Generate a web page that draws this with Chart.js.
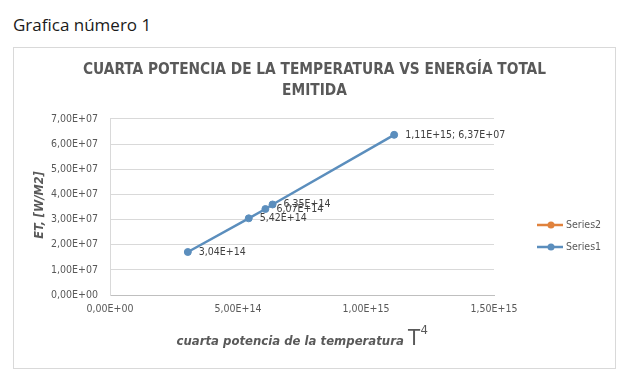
<!DOCTYPE html>
<html>
<head>
<meta charset="utf-8">
<script src="https://cdn.jsdelivr.net/npm/chart.js@4.4.1/dist/chart.umd.min.js"></script>
<style>
  html, body { margin: 0; padding: 0; background: #ffffff; }
  body { width: 637px; height: 383px; position: relative; overflow: hidden; }
  #heading { position: absolute; left: 13px; top: 13px; font-family: 'Open Sans', sans-serif; font-size: 17px; color: #1a1a1a; line-height: 24px; white-space: nowrap; }
  #frame { position: absolute; left: 13px; top: 47px; width: 603px; height: 322px; box-sizing: border-box; border: 1px solid #d9d9d9; background: #fff; }
  #chart { display: block; }
</style>
</head>
<body>
<div id="heading">Grafica número 1</div>
<div id="frame"><canvas id="chart" width="601" height="320"></canvas></div>
<script>
// ---- data ----
const seriesNames = ['Series1', 'Series2'];
const xValues = [3.04e14, 5.42e14, 6.07e14, 6.35e14, 1.11e15];   // cuarta potencia de la temperatura
const yValues = [1.71e7, 3.05e7, 3.42e7, 3.60e7, 6.37e7];        // ET [W/M2]
const labelShowsY = [false, false, false, false, true];
const series2X = [];
const series2Y = [];
const titleLines = ['CUARTA POTENCIA DE LA TEMPERATURA VS ENERGÍA TOTAL', 'EMITIDA'];
const yAxisTitle = 'ET, [W/M2]';
const xAxisTitle = 'cuarta potencia de la temperatura';
const xAxisTitleSymbol = 'T';
const xAxisTitleSup = '4';
const xMin = 0, xMax = 1.5e15, xStep = 5e14;
const yMin = 0, yMax = 7e7, yStep = 1e7;

// ---- styling ----
const NARROW = "'DejaVu Sans Condensed', 'Liberation Sans', sans-serif";
const BLUE = '#5b8ebd';
const ORANGE = '#e0823d';
const TEXT = '#595959';

function fmtE(v) {
  const parts = Number(v).toExponential(2).split('e');
  const sign = parts[1][0] === '-' ? '-' : '+';
  let d = parts[1].replace(/[+-]/, '');
  if (d.length < 2) d = '0' + d;
  return parts[0].replace('.', ',') + 'E' + sign + d;
}

const points1 = xValues.map((x, i) => ({ x: x, y: yValues[i] }));
const points2 = series2X.map((x, i) => ({ x: x, y: series2Y[i] }));

const overlay = {
  id: 'overlay',
  afterDraw(chart) {
    const ctx = chart.ctx;
    const area = chart.chartArea;
    ctx.save();
    // data labels
    const meta = chart.getDatasetMeta(0);
    ctx.font = '10.5px ' + NARROW;
    ctx.fillStyle = '#404040';
    ctx.textBaseline = 'middle';
    ctx.textAlign = 'left';
    meta.data.forEach((pt, i) => {
      let txt = fmtE(xValues[i]);
      if (labelShowsY[i]) txt += '; ' + fmtE(yValues[i]);
      ctx.fillText(txt, pt.x + 11, pt.y);
    });
    // y axis title
    ctx.save();
    ctx.translate(26, (area.top + area.bottom) / 2 - 2);
    ctx.rotate(-Math.PI / 2);
    ctx.font = 'italic bold 12.5px ' + NARROW;
    ctx.fillStyle = TEXT;
    ctx.textAlign = 'center';
    ctx.textBaseline = 'middle';
    ctx.fillText(yAxisTitle, 0, 0);
    ctx.restore();
    // x axis title (mixed fonts)
    const f1 = 'italic bold 13px ' + NARROW;
    const f2 = '22px ' + NARROW;
    const f3 = '13px ' + NARROW;
    ctx.textBaseline = 'alphabetic';
    ctx.font = f1; const w1 = ctx.measureText(xAxisTitle + ' ').width;
    ctx.font = f2; const w2 = ctx.measureText(xAxisTitleSymbol).width;
    ctx.font = f3; const w3 = ctx.measureText(xAxisTitleSup).width;
    let sx = (area.left + area.right) / 2 - (w1 + w2 + w3) / 2;
    const base = 296.5;
    ctx.fillStyle = TEXT;
    ctx.font = f1; ctx.fillText(xAxisTitle + ' ', sx, base); sx += w1;
    ctx.font = f2; ctx.fillText(xAxisTitleSymbol, sx, base); sx += w2 + 0.5;
    ctx.font = f3; ctx.fillText(xAxisTitleSup, sx, base - 11);
    // legend (Series2 above Series1)
    const legendOrder = [1, 0];
    const colors = [BLUE, ORANGE];
    ctx.font = '10.5px ' + NARROW;
    ctx.textBaseline = 'middle';
    legendOrder.forEach((di, k) => {
      const y = 177 + k * 22;
      ctx.strokeStyle = colors[di];
      ctx.lineWidth = 2.5;
      ctx.beginPath(); ctx.moveTo(523, y); ctx.lineTo(549, y); ctx.stroke();
      ctx.fillStyle = colors[di];
      ctx.beginPath(); ctx.arc(537, y, 3.5, 0, Math.PI * 2); ctx.fill();
      ctx.fillStyle = TEXT;
      ctx.fillText(seriesNames[di], 552, y);
    });
    ctx.restore();
  }
};

new Chart(document.getElementById('chart'), {
  type: 'scatter',
  data: {
    datasets: [
      { label: seriesNames[0], data: points1, showLine: true, borderColor: BLUE, backgroundColor: BLUE,
        borderWidth: 2.5, pointRadius: 3.5, pointBackgroundColor: BLUE, pointBorderColor: BLUE, pointBorderWidth: 1 },
      { label: seriesNames[1], data: points2, showLine: true, borderColor: ORANGE, backgroundColor: ORANGE,
        borderWidth: 2.5, pointRadius: 3.5 }
    ]
  },
  options: {
    responsive: false,
    animation: false,
    devicePixelRatio: 1,
    layout: { padding: { left: 0, right: 0, top: 0, bottom: 0 } },
    plugins: {
      legend: { display: false },
      tooltip: { enabled: false },
      title: {
        display: true,
        text: titleLines,
        color: TEXT,
        font: { family: NARROW, size: 15.3, weight: 'bold', lineHeight: 1.372 },
        padding: { top: 12, bottom: 17 }
      }
    },
    scales: {
      x: {
        type: 'linear', position: 'bottom',
        min: xMin, max: xMax,
        afterFit(s) { s.height = 73; },
        grid: { display: false, drawTicks: false },
        border: { display: true, color: '#bfbfbf', width: 1 },
        ticks: { stepSize: xStep, padding: 8, color: TEXT, font: { family: NARROW, size: 10.5 },
                 maxRotation: 0, autoSkip: false, callback: v => fmtE(v) }
      },
      y: {
        type: 'linear', position: 'left',
        min: yMin, max: yMax,
        afterFit(s) { s.width = 96; },
        grid: { display: true, color: '#d9d9d9', lineWidth: 1, drawTicks: false },
        border: { display: true, color: '#d9d9d9', width: 1 },
        ticks: { stepSize: yStep, padding: 12, color: TEXT, font: { family: NARROW, size: 10.5 },
                 callback: v => fmtE(v) }
      },
      legendSpace: {
        type: 'linear', position: 'right',
        afterFit(s) { s.width = 121; },
        grid: { display: false, drawTicks: false },
        border: { display: false },
        ticks: { display: false }
      }
    }
  },
  plugins: [overlay]
});
</script>
</body>
</html>
